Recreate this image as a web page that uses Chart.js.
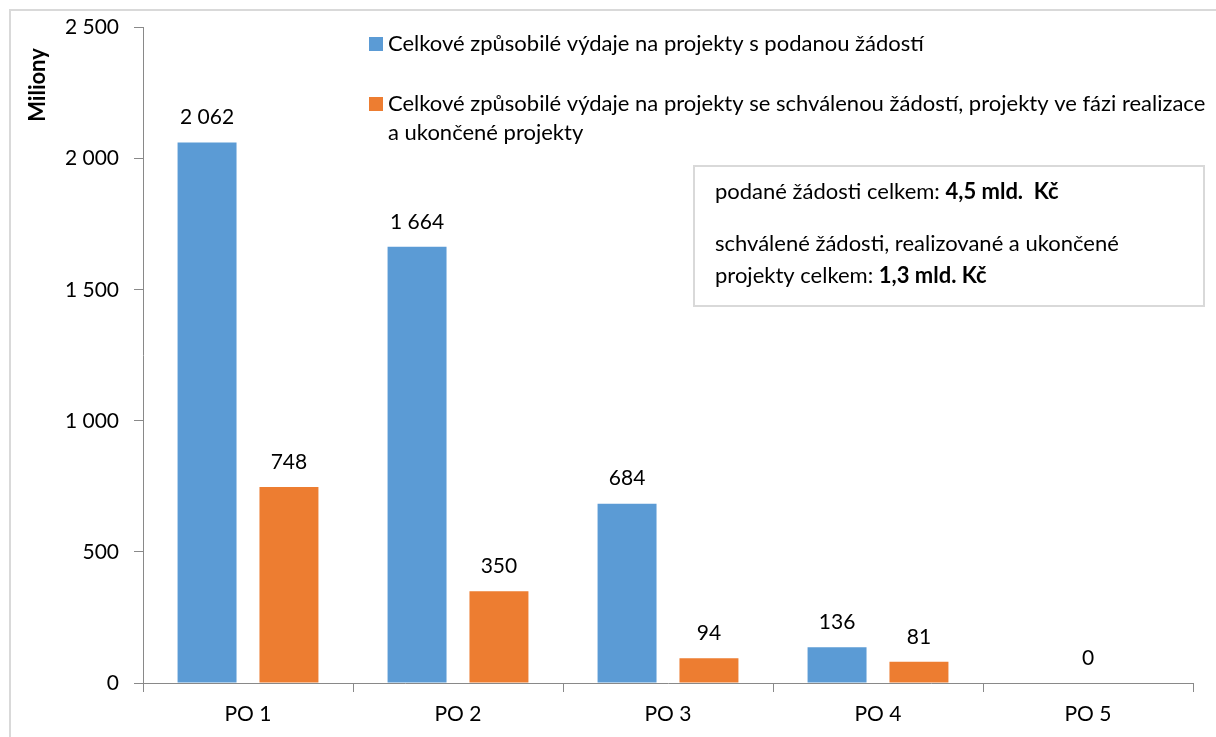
<!DOCTYPE html>
<html>
<head>
<meta charset="utf-8">
<script src="https://cdn.jsdelivr.net/npm/chart.js@4.4.1/dist/chart.umd.min.js"></script>
<style>
  body { margin: 0; background: #fff; }
  canvas { display: block; }
</style>
</head>
<body>
<canvas id="myBarChart" width="1216" height="737"></canvas>
<script>
const categories = ['PO 1', 'PO 2', 'PO 3', 'PO 4', 'PO 5'];
const submittedValues = [2062, 1664, 684, 136, 0];
const approvedValues = [748, 350, 94, 81, null];
const yTicks = [0, 500, 1000, 1500, 2000, 2500];

const legendLabels = [
    ['Celkové způsobilé výdaje na projekty s podanou žádostí'],
    ['Celkové způsobilé výdaje na projekty se schválenou žádostí, projekty ve fázi realizace', 'a ukončené projekty']
];

const FONT = 'Lato';
const AXIS_COLOR = '#898989';

function formatNumber(v) {
    // thousands separated by a space, like "2 500"
    return String(v).replace(/\B(?=(\d{3})+(?!\d))/g, ' ');
}

// draws value labels above each bar
const valueLabels = {
    id: 'valueLabels',
    afterDatasetsDraw(chart) {
        const ctx = chart.ctx;
        const xScale = chart.scales.x;
        ctx.save();
        ctx.font = '21px ' + FONT;
        ctx.fillStyle = '#000';
        ctx.textAlign = 'center';
        ctx.textBaseline = 'middle';
        chart.data.datasets.forEach(function(ds, di) {
            const meta = chart.getDatasetMeta(di);
            meta.data.forEach(function(bar, i) {
                const v = ds.data[i];
                if (v === null) return;
                let x = bar.x;
                // if the other series has no value, the label sits in the middle
                const other = chart.data.datasets[1 - di].data[i];
                if (other === null) x = xScale.getPixelForValue(i);
                ctx.fillText(formatNumber(v), x, bar.y - 25);
            });
        });
        ctx.restore();
    }
};

// legend, text box, axis title and outer frame
const extras = {
    id: 'extras',
    afterDraw(chart) {
        const ctx = chart.ctx;
        const colors = chart.data.datasets.map(d => d.backgroundColor);
        ctx.save();

        // outer frame
        ctx.strokeStyle = '#d9d9d9';
        ctx.lineWidth = 2;
        ctx.strokeRect(10, 10, 1400, 1400);

        // y axis title
        ctx.save();
        ctx.translate(38, 85);
        ctx.rotate(-Math.PI / 2);
        ctx.font = 'bold 22px ' + FONT;
        ctx.fillStyle = '#000';
        ctx.textAlign = 'center';
        ctx.textBaseline = 'middle';
        ctx.fillText('Miliony', 0, 0);
        ctx.restore();

        // legend
        ctx.font = '22px ' + FONT;
        ctx.fillStyle = '#000';
        ctx.textAlign = 'left';
        ctx.textBaseline = 'middle';
        const legendY = [44, 104];
        legendLabels.forEach(function(lines, i) {
            ctx.fillStyle = colors[i];
            ctx.fillRect(369, legendY[i] - 7, 14, 14);
            ctx.fillStyle = '#000';
            lines.forEach(function(line, j) {
                ctx.fillText(line, 388, legendY[i] + j * 29);
            });
        });

        // summary box
        ctx.strokeStyle = '#d9d9d9';
        ctx.lineWidth = 2;
        ctx.fillStyle = '#fff';
        ctx.fillRect(694, 166, 510, 140);
        ctx.strokeRect(694, 166, 510, 140);
        const rows = [
            [['podané žádosti celkem: ', false], ['4,5 mld.  Kč', true]],
            [['schválené žádosti, realizované a ukončené', false]],
            [['projekty celkem: ', false], ['1,3 mld. Kč', true]]
        ];
        const rowY = [192, 244, 276];
        ctx.fillStyle = '#000';
        rows.forEach(function(parts, r) {
            let x = 715;
            parts.forEach(function(p) {
                ctx.font = (p[1] ? 'bold ' : '') + '22px ' + FONT;
                ctx.fillText(p[0], x, rowY[r]);
                x += ctx.measureText(p[0]).width;
            });
        });

        ctx.restore();
    }
};

function renderChart() {
    const data = {
        labels: categories,
        datasets: [{
            label: legendLabels[0].join(' '),
            data: submittedValues,
            backgroundColor: '#5B9BD5',
            categoryPercentage: 0.78,
            barPercentage: 0.72
        }, {
            label: legendLabels[1].join(' '),
            data: approvedValues,
            backgroundColor: '#ED7D31',
            categoryPercentage: 0.78,
            barPercentage: 0.72
        }]
    };

    const config = {
        type: 'bar',
        data: data,
        options: {
            responsive: false,
            animation: false,
            devicePixelRatio: 1,
            layout: { padding: { left: 0, top: 24, right: 23, bottom: 0 } },
            plugins: {
                legend: { display: false },
                tooltip: { enabled: false }
            },
            scales: {
                x: {
                    grid: {
                        display: true,
                        drawOnChartArea: false,
                        offset: true,
                        tickLength: 9,
                        color: AXIS_COLOR
                    },
                    border: { display: true, color: AXIS_COLOR },
                    ticks: {
                        color: '#000',
                        padding: 10,
                        font: { family: FONT, size: 21 }
                    },
                    afterFit(scale) { scale.height = 54; }
                },
                y: {
                    min: 0,
                    max: 2500,
                    afterBuildTicks(scale) {
                        scale.ticks = yTicks.map(v => ({ value: v }));
                    },
                    grid: {
                        display: true,
                        drawOnChartArea: false,
                        tickLength: 9,
                        color: AXIS_COLOR
                    },
                    border: { display: true, color: AXIS_COLOR },
                    ticks: {
                        color: '#000',
                        padding: 15,
                        font: { family: FONT, size: 21 },
                        callback: v => formatNumber(v)
                    },
                    afterFit(scale) { scale.width = 143; }
                }
            }
        },
        plugins: [valueLabels, extras]
    };

    new Chart(document.getElementById('myBarChart'), config);
}

renderChart();
</script>
</body>
</html>
